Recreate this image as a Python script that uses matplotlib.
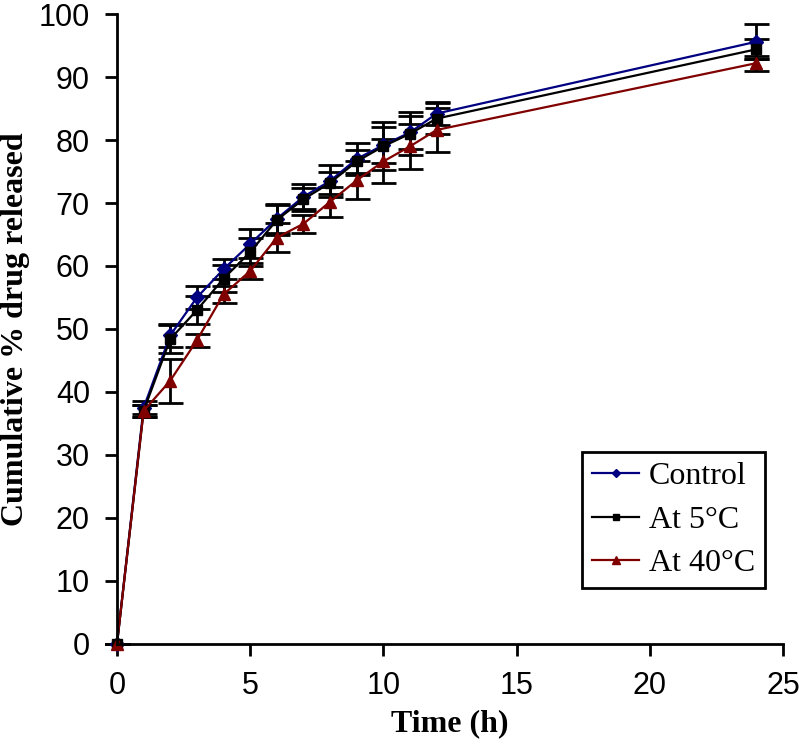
import numpy as np
import matplotlib.pyplot as plt
from matplotlib.lines import Line2D

# Release data
time_h = [0, 1, 2, 3, 4, 5, 6, 7, 8, 9, 10, 11, 12, 24]

control = [0, 37.5, 49.0, 55.0, 59.5, 63.5, 67.5, 71.0, 73.5, 77.0, 79.2, 81.2, 84.2, 95.6]
control_err = [0, 1.0, 1.8, 1.8, 1.6, 2.3, 2.3, 2.0, 2.6, 2.6, 2.8, 2.6, 1.8, 2.8]

at_5c = [0, 37.0, 48.4, 53.0, 58.0, 62.2, 67.3, 70.6, 73.2, 76.6, 79.0, 81.0, 83.4, 94.4]
at_5c_err = [0, 1.0, 2.2, 2.2, 2.2, 2.2, 2.4, 1.8, 1.8, 1.8, 3.8, 3.4, 2.4, 1.6]

at_40c = [0, 37.0, 41.8, 48.2, 55.5, 59.2, 64.5, 66.7, 70.2, 73.6, 76.6, 79.0, 81.6, 92.2]
at_40c_err = [0, 1.0, 3.5, 1.0, 1.4, 1.2, 2.3, 1.4, 2.4, 3.0, 3.5, 3.6, 3.5, 1.2]

labels = ['Control', 'At 5°C', 'At 40°C']

fig = plt.figure(figsize=(7.99, 7.49), dpi=100)
ax = fig.add_axes([0.1464, 0.1402, 0.8336, 0.8411])

series = [
    (control, control_err, '#000080', 'D', 7),
    (at_5c, at_5c_err, 'black', 's', 7.5),
    (at_40c, at_40c_err, '#800000', '^', 8.5),
]
handles = []
for (vals, err, col, mk, ms), lab in zip(series, labels):
    ax.errorbar(time_h, vals, yerr=err, color=col, marker=mk, markersize=ms,
                linewidth=1.6, ecolor='black', elinewidth=2, capsize=9,
                capthick=2, clip_on=False)
    handles.append(Line2D([], [], color=col, marker=mk, markersize=ms * 0.65,
                          linewidth=1.6, label=lab))

ax.set_xlim(0, 25)
ax.set_ylim(0, 100)
ax.set_xticks(np.arange(0, 26, 5))
ax.set_yticks(np.arange(0, 101, 10))
ax.spines['top'].set_visible(False)
ax.spines['right'].set_visible(False)
for s in ['left', 'bottom']:
    ax.spines[s].set_linewidth(2)
ax.tick_params(direction='out', length=8.5, width=2, labelsize=22, pad=11)
for t in ax.get_xticklabels() + ax.get_yticklabels():
    t.set_fontfamily('Liberation Sans')

ax.set_xlabel('Time (h)', fontfamily='Liberation Serif', fontweight='bold',
              fontsize=23, labelpad=6)
ax.set_ylabel('Cumulative % drug released', fontfamily='Liberation Serif',
              fontweight='bold', fontsize=23, labelpad=6)

leg = fig.legend(handles=handles, loc='upper left',
                 bbox_to_anchor=(0.7284, 0.3965), borderaxespad=0,
                 prop={'family': 'Liberation Serif', 'size': 23}, frameon=True,
                 fancybox=False, edgecolor='black', framealpha=1,
                 handlelength=1.5, borderpad=0.3, labelspacing=0.45,
                 handletextpad=0.3)
leg.get_frame().set_linewidth(2)

fig.savefig('out.png', dpi=100)
